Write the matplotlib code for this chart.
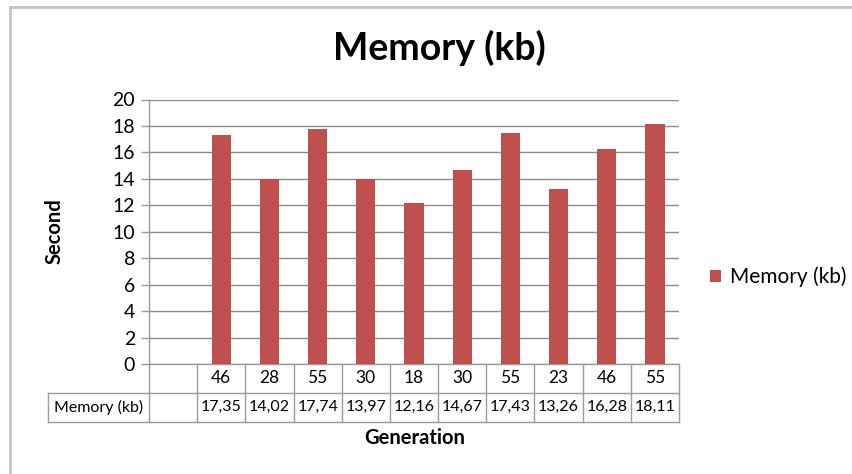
#! /usr/bin/env python3

import matplotlib
matplotlib.use("Agg")
import matplotlib.pyplot as plt
import matplotlib.transforms as mtransforms
from matplotlib.patches import Rectangle
import numpy as np

plt.rcParams['font.family'] = ['Lato', 'DejaVu Sans']

generations = ["", "46", "28", "55", "30", "18", "30", "55", "23", "46", "55"]
memory_kb = [np.nan, 17.35, 14.02, 17.74, 13.97, 12.16, 14.67, 17.43, 13.26, 16.28, 18.11]
series_name = "Memory (kb)"

W, H = 853, 474
bar_color = '#C0504D'
grid_color = '#8C8C8C'
line_color = '#9A9A9A'

fig = plt.figure(figsize=(W / 100, H / 100), dpi=100)

# plot area in pixels: x 149..679, y 99.5..364
ax = fig.add_axes([149 / W, 1 - 364 / H, 530 / W, 264.5 / H])

x = np.arange(len(generations))
ax.bar(x, memory_kb, width=0.4, color=bar_color, label=series_name, zorder=3)

ax.set_xlim(-0.5, len(generations) - 0.5)
ax.set_ylim(0, 20)
ax.set_yticks(np.arange(0, 21, 2))
ax.tick_params(axis='y', length=6, width=1, color=line_color, labelsize=14, pad=4)
ax.set_xticks([])
ax.yaxis.grid(True, color=grid_color, linewidth=1)
ax.set_axisbelow(True)
for side in ['top', 'right']:
    ax.spines[side].set_visible(False)
for side in ['left', 'bottom']:
    ax.spines[side].set_color(line_color)
    ax.spines[side].set_linewidth(1)

# data table under the axis
trans = mtransforms.blended_transform_factory(ax.transData, ax.transAxes)
row1 = -(392.5 - 364) / 264.5
row2 = -(421.7 - 364) / 264.5
head_left = -0.5 - (149 - 48) / (530 / len(generations))
lkw = dict(color=line_color, linewidth=1, transform=trans, clip_on=False)

for k in range(len(generations) + 1):
    ax.plot([k - 0.5, k - 0.5], [0, row2], **lkw)
ax.plot([head_left, len(generations) - 0.5], [row1, row1], **lkw)
ax.plot([head_left, len(generations) - 0.5], [row2, row2], **lkw)
ax.plot([head_left, head_left], [row1, row2], **lkw)

for xi, g, v in zip(x, generations, memory_kb):
    ax.text(xi, row1 / 2, g, ha='center', va='center', fontsize=12.5, transform=trans)
    if not np.isnan(v):
        ax.text(xi, (row1 + row2) / 2, f"{v:.2f}".replace('.', ','), ha='center',
                va='center', fontsize=11.5, transform=trans)
ax.text((head_left - 0.5) / 2, (row1 + row2) / 2, series_name, ha='center', va='center',
        fontsize=11.5, transform=trans)

# titles
fig.text(439 / W, 1 - 48 / H, "Memory (kb)", ha='center', va='center', fontsize=27,
         fontweight='bold')
fig.text(55 / W, 1 - 231 / H, "Second", ha='center', va='center', rotation=90,
         fontsize=14.5, fontweight='bold')
fig.text(415 / W, 1 - 438 / H, "Generation", ha='center', va='center', fontsize=14.5,
         fontweight='bold')

fig.legend(loc='center left', bbox_to_anchor=(710 / W, 1 - 277 / H), frameon=False,
           fontsize=15, handlelength=0.55, handleheight=0.55, handletextpad=0.4,
           borderpad=0, borderaxespad=0)

# chart frame
fig.patches.append(Rectangle((10 / W, -0.1), 1.0, 1.1 - 7 / H, transform=fig.transFigure,
                             fill=False, edgecolor='#C4C4C4', linewidth=2))

plt.savefig("out.png", dpi=100)
